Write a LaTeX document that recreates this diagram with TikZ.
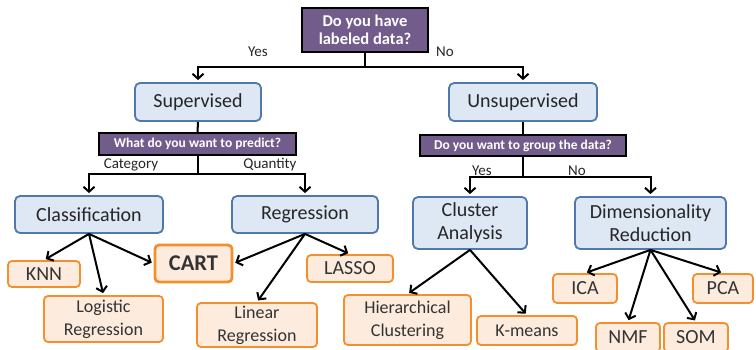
\documentclass[tikz,border=0pt]{standalone}
\usepackage{fontspec}
\setmainfont{Carlito}
\usetikzlibrary{arrows.meta}
\definecolor{qpurple}{RGB}{114,92,140}
\definecolor{boxblue}{RGB}{222,232,244}
\definecolor{edgeblue}{RGB}{80,120,170}
\definecolor{leaffill}{RGB}{253,236,222}
\definecolor{leafedge}{RGB}{245,142,45}

\begin{document}
\begin{tikzpicture}[x=1pt,y=-1pt,
    question/.style={draw=black, line width=1.6pt, fill=qpurple, text=white, inner sep=0pt, align=center},
    method/.style={draw=edgeblue, line width=1.8pt, fill=boxblue, rounded corners=5pt, inner sep=0pt, align=center, text=black!85, font=\fontsize{20}{23}\selectfont},
    algo/.style={draw=leafedge, line width=1.8pt, fill=leaffill, rounded corners=4pt, inner sep=0pt, align=center, text=black!80, font=\fontsize{18}{23}\selectfont},
    link/.style={line width=2pt},
    arrow/.style={link, -{Straight Barb[length=5pt,width=11pt]}, shorten >=2pt},
    answer/.style={text=black!85, font=\fontsize{15}{18}\selectfont}
]
        \useasboundingbox (0,0) rectangle (756,350);

        % Root question
        \node[question, minimum width=126pt, minimum height=44pt, font=\bfseries\fontsize{16.5}{18}\selectfont] (labeled) at (365,30) {Do you have\\labeled data?};
        \node[answer] (yesroot) at (258,52) {Yes};
        \node[answer] (noroot) at (445,52) {No};

        % Learning types
        \node[method, minimum width=126pt, minimum height=38pt] (supervised) at (198,102) {Supervised};
        \node[method, minimum width=148pt, minimum height=38pt] (unsupervised) at (523,102) {Unsupervised};

        % Split below the root
        \coordinate (split0) at (365,67);
        \draw[link] (labeled.south) -- (split0);
        \draw[arrow] (split0) -| (supervised.north);
        \draw[arrow] (split0) -| (unsupervised.north);

        % Supervised branch
        \node[question, minimum width=197pt, minimum height=22pt, font=\bfseries\fontsize{13.5}{16}\selectfont] (predict) at (197.5,144) {What do you want to predict?};
        \node[answer] (category) at (131,165) {Category};
        \node[answer] (quantity) at (270,165) {Quantity};
        \node[method, minimum width=148pt, minimum height=37pt] (classification) at (89,214.5) {Classification};
        \node[method, minimum width=146pt, minimum height=37pt] (regression) at (305,214.5) {Regression};

        \coordinate (split1) at (197.5,174);
        \draw[link] (supervised.south) -- (predict.north);
        \draw[link] (predict.south) -- (split1);
        \draw[arrow] (split1) -| (classification.north);
        \draw[arrow] (split1) -| (regression.north);

        % Unsupervised branch
        \node[question, minimum width=206pt, minimum height=21pt, font=\bfseries\fontsize{13.5}{16}\selectfont] (group) at (523,145.5) {Do you want to group the data?};
        \node[answer] (yesgroup) at (482,171) {Yes};
        \node[answer] (nogroup) at (577,171) {No};
        \node[method, minimum width=114pt, minimum height=52pt] (cluster) at (470,223) {Cluster\\Analysis};
        \node[method, minimum width=151pt, minimum height=52pt] (dimred) at (650.5,223) {Dimensionality\\Reduction};

        \coordinate (split2) at (523,177);
        \draw[link] (unsupervised.south) -- (group.north);
        \draw[link] (group.south) -- (split2);
        \draw[arrow] (split2) -| (cluster.north);
        \draw[arrow] (split2) -| (dimred.north);

        % Algorithms
        \node[algo, minimum width=72pt, minimum height=26pt, font=\fontsize{20}{23}\selectfont] (knn) at (44,274) {KNN};
        \node[algo, minimum width=119pt, minimum height=46pt] (logistic) at (103.5,319) {Logistic\\Regression};
        \node[algo, minimum width=77pt, minimum height=37pt, line width=2.8pt, font=\bfseries\fontsize{22.5}{26}\selectfont] (cart) at (193.5,263.5) {CART};
        \node[algo, minimum width=120pt, minimum height=44pt] (linear) at (257,325) {Linear\\Regression};
        \node[algo, minimum width=86pt, minimum height=27pt, font=\fontsize{20}{23}\selectfont] (lasso) at (350,268.5) {LASSO};
        \node[algo, minimum width=127pt, minimum height=50pt] (hierarchical) at (407.5,320) {Hierarchical\\Clustering};
        \node[algo, minimum width=100pt, minimum height=29pt] (kmeans) at (527,330.5) {K-means};
        \node[algo, minimum width=64pt, minimum height=29pt, font=\fontsize{20}{23}\selectfont] (ica) at (585,288.5) {ICA};
        \node[algo, minimum width=60pt, minimum height=29pt, font=\fontsize{20}{23}\selectfont] (pca) at (723,288.5) {PCA};
        \node[algo, minimum width=64pt, minimum height=29pt, font=\fontsize{20}{23}\selectfont] (nmf) at (628,337.5) {NMF};
        \node[algo, minimum width=64pt, minimum height=29pt, font=\fontsize{20}{23}\selectfont] (som) at (696,337.5) {SOM};

        % Arrows to algorithms
        \draw[arrow] (classification.south) -- (knn.north);
        \draw[arrow] (classification.south) -- (logistic.north);
        \draw[arrow] (classification.south) -- (cart.west);
        \draw[arrow] (regression.south) -- (cart.east);
        \draw[arrow] (regression.south) -- (linear.north);
        \draw[arrow] (regression.south) -- (lasso.north);
        \draw[arrow] (cluster.south) -- (hierarchical.north);
        \draw[arrow] (cluster.south) -- (kmeans.north);
        \draw[arrow] (dimred.south) -- (ica.north);
        \draw[arrow] (dimred.south) -- (pca.north);
        \draw[arrow] (dimred.south) -- (nmf.north);
        \draw[arrow] (dimred.south) -- (som.north);
    \end{tikzpicture}
\end{document}
